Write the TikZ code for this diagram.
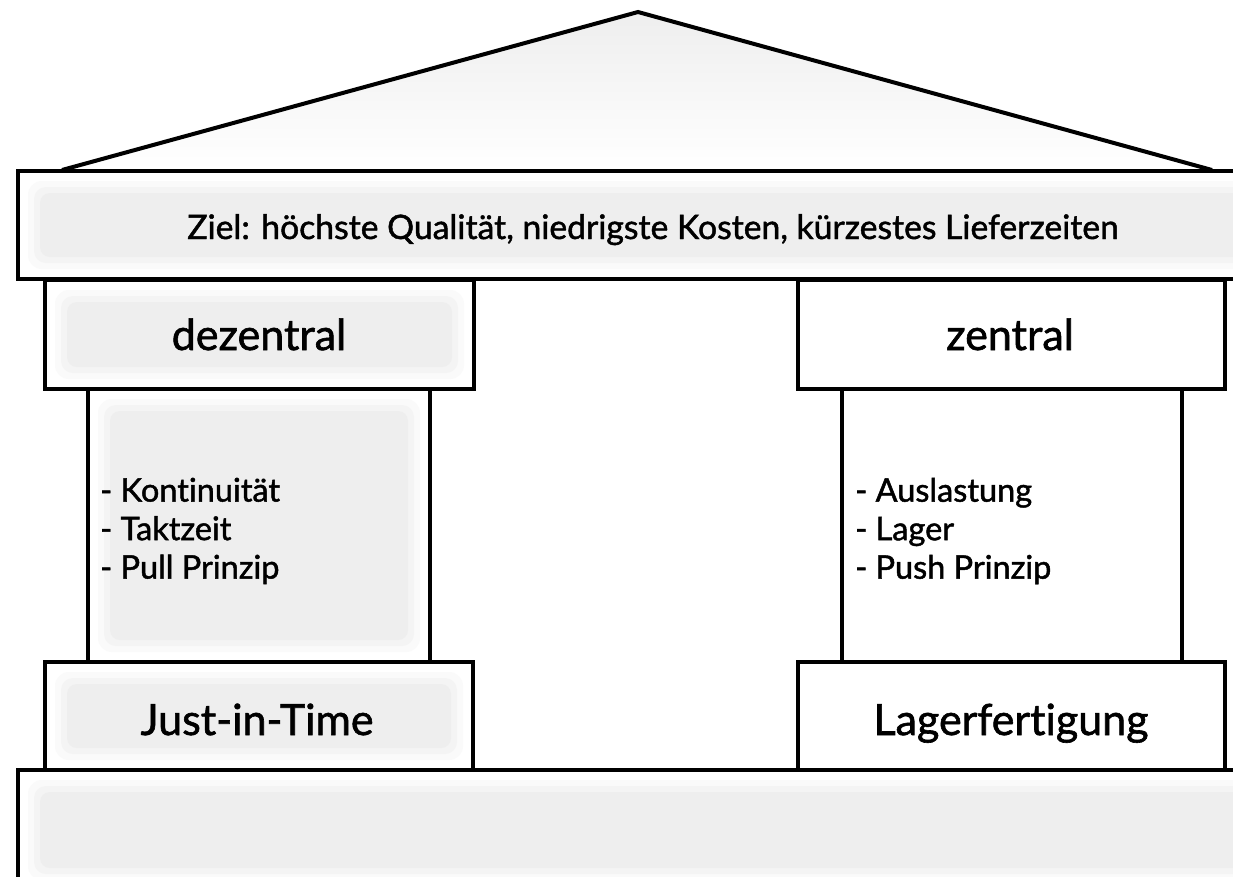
\documentclass[tikz,border=0pt]{standalone}
\usepackage{fontspec}
\setmainfont{Lato}[FakeBold=1.4, Ligatures=NoCommon]
\definecolor{boxgrey}{HTML}{EEEEEE}
\definecolor{boxgreyA}{HTML}{FAFAFA}
\definecolor{boxgreyB}{HTML}{F4F4F4}
\begin{document}
\begin{tikzpicture}[x=1pt,y=-1pt,
  frame/.style={draw=black, line width=4pt, fill=white, inner sep=0pt},
  greyfill/.style={frame, path picture={
      \fill[boxgreyA, rounded corners=14pt]
      ([shift={(10pt,-10pt)}]path picture bounding box.north west) rectangle
      ([shift={(-10pt,10pt)}]path picture bounding box.south east);
      \fill[boxgreyB, rounded corners=12pt]
      ([shift={(16pt,-16pt)}]path picture bounding box.north west) rectangle
      ([shift={(-16pt,16pt)}]path picture bounding box.south east);
      \fill[boxgrey, rounded corners=10pt]
      ([shift={(22pt,-22pt)}]path picture bounding box.north west) rectangle
      ([shift={(-22pt,22pt)}]path picture bounding box.south east);}},
  bigtext/.style={font=\fontsize{43}{46}\selectfont, anchor=base, inner sep=0pt},
  midtext/.style={font=\fontsize{33.7}{36}\selectfont, anchor=base, inner sep=0pt},
  listtext/.style={font=\fontsize{32.5}{38.5}\selectfont, align=left, anchor=west, inner sep=0pt}]
\useasboundingbox (0,0) rectangle (1233,876);
\clip (0,0) rectangle (1233,876);
% roof
\coordinate (rl) at (62,170);
\coordinate (rt) at (638,12);
\coordinate (rr) at (1212,170);
\shade[top color=boxgrey, bottom color=white] (rl) -- (rt) -- (rr) -- cycle;
\draw[line width=4pt, line join=miter] (rl) -- (rt) -- (rr);
% beam
\node[greyfill, minimum width=1270pt, minimum height=108pt] (beam) at (653,225) {};
% columns
\node[greyfill, minimum width=342pt, minimum height=273pt] (lcol) at (259,525.5) {};
\node[frame, minimum width=340pt, minimum height=273pt] (rcol) at (1012,525.5) {};
% capitals
\node[greyfill, minimum width=429pt, minimum height=109pt] (dez) at (259.5,334.5) {};
\node[frame, minimum width=427pt, minimum height=109pt] (zen) at (1011.5,334.5) {};
% column bases
\node[greyfill, minimum width=428pt, minimum height=108pt] (jit) at (259,716) {};
\node[frame, minimum width=427pt, minimum height=108pt] (lag) at (1011.5,716) {};
% foundation
\node[greyfill, minimum width=1270pt, minimum height=120pt] (base) at (653,830) {};
% texts
\node[midtext] (tbeam) at (653,239) {Ziel: höchste Qualität, niedrigste Kosten, kürzestes Lieferzeiten};
\node[bigtext] (tdez) at (259,350) {dezentral};
\node[bigtext] (tzen) at (1010,350) {zentral};
\node[bigtext] (tjit) at (257,735) {Just-in-Time};
\node[bigtext] (tlag) at (1011,735) {Lagerfertigung};
\node[listtext] (llist) at (100,531) {- Kontinuität\\- Taktzeit\\- Pull Prinzip};
\node[listtext] (rlist) at (855,531) {- Auslastung\\- Lager\\- Push Prinzip};
\end{tikzpicture}
\end{document}
